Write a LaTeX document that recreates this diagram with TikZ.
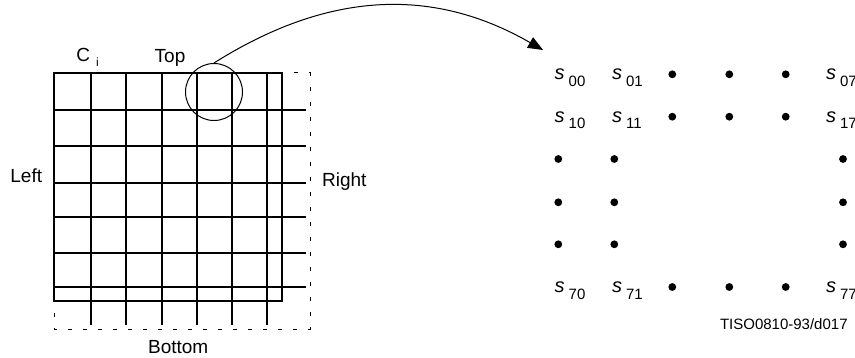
\documentclass[tikz,border=0pt]{standalone}
\usepackage{fontspec}
\setmainfont{Liberation Sans}
\usetikzlibrary{arrows.meta}

\newcommand{\scoef}[1]{\textit{s}\hspace{2pt}\raisebox{-3.3pt}{\fontsize{7.5}{9}\selectfont #1}}

\begin{document}
\begin{tikzpicture}[x=0.5pt, y=-0.5pt,
    lbl/.style={font=\fontsize{9.5}{11}\selectfont, inner sep=0pt, anchor=base west},
    coef/.style={font=\fontsize{10}{12}\selectfont, inner sep=0pt, anchor=base west},
    dot/.style={circle, fill, inner sep=0pt, minimum size=3.9pt},
    gridline/.style={line width=0.9pt},
    block/.style={line width=1.4pt},
    ext/.style={dash pattern=on 2pt off 5.5pt, line width=0.5pt},
    arrow/.style={-{Triangle[length=7.5pt, width=6pt]}, line width=0.5pt},
]
    \useasboundingbox (0,0) rectangle (855,358);

    % next blocks (dashed)
    \draw[ext] (54,73) rectangle (310,329);

    % grid lines
    \foreach \x in {90.7,125.7,162.3,196.7,232.3,266.7}
        \draw[gridline] (\x,73) -- (\x,325);
    \foreach \y in {110,146,182.7,217.3,252.7,286.7}
        \draw[gridline] (54,\y) -- (305.7,\y);

    % block C_i
    \draw[block] (54,73) rectangle (282,301);

    % labels round the block
    \node[lbl] (ci) at (76,61.7) {C\hspace{3pt}\raisebox{-2.5pt}{\fontsize{6}{7}\selectfont i}};
    \node[lbl] (top) at (154.3,62.3) {Top};
    \node[lbl] (left) at (10,182.7) {Left};
    \node[lbl] (right) at (321.7,186.7) {Right};
    \node[lbl] (bottom) at (147.7,353.3) {Bottom};

    % zoom circle and arrow
    \node[circle, draw, line width=0.5pt, minimum size=28.5pt, inner sep=0pt] (zoom) at (214,92) {};
    \coordinate (tip) at (543,50);
    \draw[arrow] (zoom.north) .. controls (325,-7) and (430,-15) .. (tip);

    % coefficients
    \node[coef] (s00) at (554.3,80) {\scoef{00}};
    \node[coef] (s01) at (611.7,80) {\scoef{01}};
    \node[coef] (s07) at (825.7,80) {\scoef{07}};
    \node[coef] (s10) at (554.3,122.3) {\scoef{10}};
    \node[coef] (s11) at (611.7,122.3) {\scoef{11}};
    \node[coef] (s17) at (825.7,122.3) {\scoef{17}};
    \node[coef] (s70) at (554.3,292.7) {\scoef{70}};
    \node[coef] (s71) at (611.7,292.7) {\scoef{71}};
    \node[coef] (s77) at (825.7,292.7) {\scoef{77}};

    % dots
    \foreach \r/\y in {0/74.3,1/116.7,7/287}
        \foreach \c/\x in {2/672.3,3/729.3,4/785.7}
            \node[dot] (d\r\c) at (\x,\y) {};
    \foreach \r/\y in {2/159,3/202.3,4/244.3}
        \foreach \c/\x in {0/558.3,1/614.3,7/843}
            \node[dot] (d\r\c) at (\x,\y) {};

    \node[font=\fontsize{7.5}{9}\selectfont, inner sep=0pt, anchor=base east] (ref) at (848,329) {TISO0810-93/d017};
\end{tikzpicture}
\end{document}
